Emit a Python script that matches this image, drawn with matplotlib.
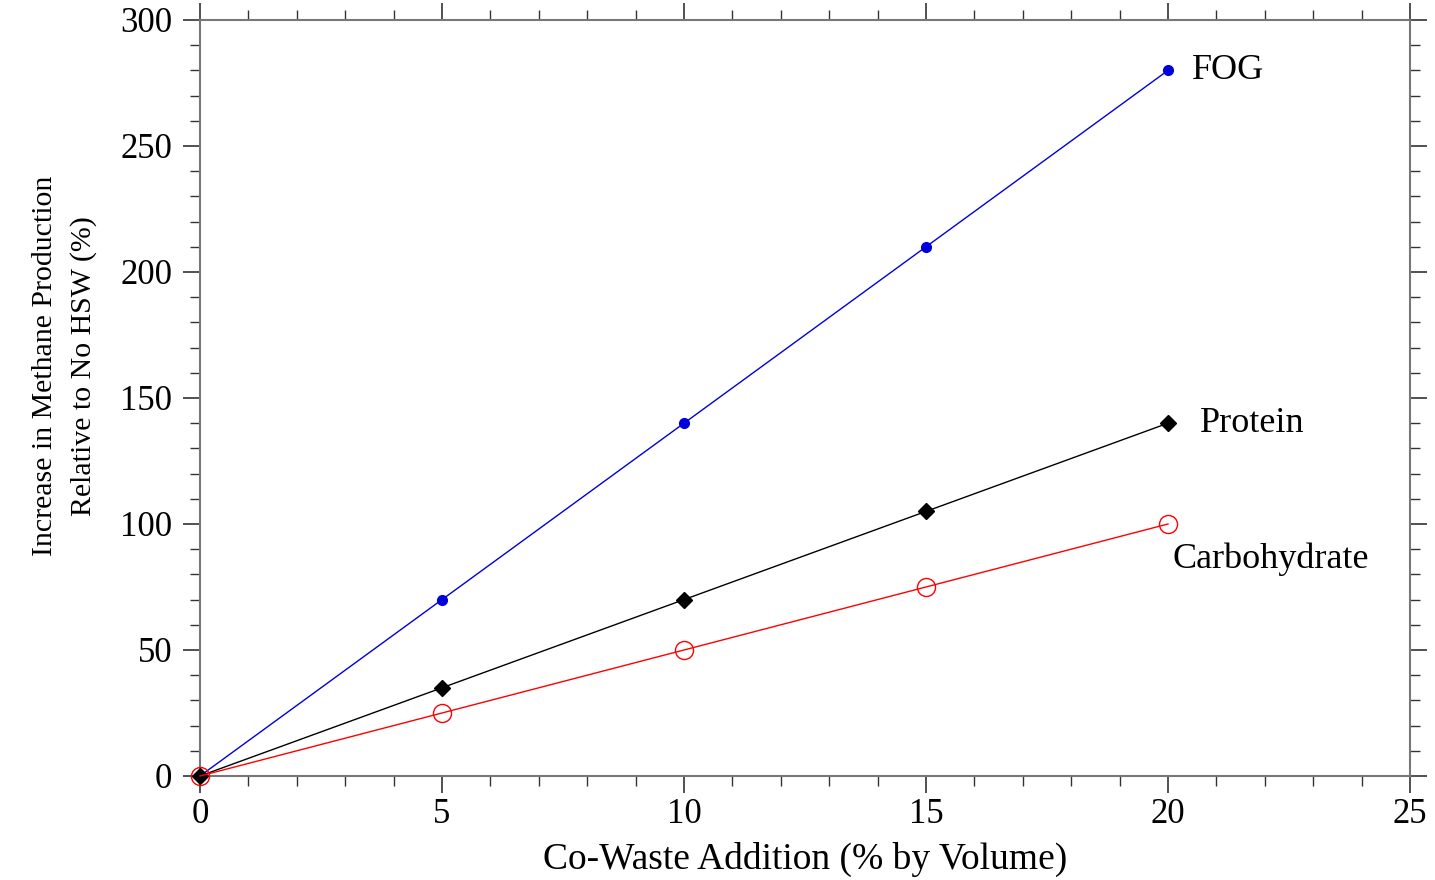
import matplotlib
matplotlib.use('Agg')
import matplotlib.pyplot as plt
from matplotlib.ticker import MultipleLocator

# 数据
co_waste = [0, 5, 10, 15, 20]
fog = [0, 70, 140, 210, 280]
protein = [0, 35, 70, 105, 140]
carbohydrate = [0, 25, 50, 75, 100]

plt.rcParams['font.family'] = ['Liberation Serif', 'DejaVu Serif']

fig = plt.figure(figsize=(14.35, 8.8), dpi=100)
ax = fig.add_axes([0.1394, 0.1182, 0.8432, 0.8591])

ax.plot(co_waste, fog, '-o', color='#0000dd', linewidth=1, markersize=7, zorder=3,
        clip_on=False)
ax.plot(co_waste, protein, '-D', color='black', linewidth=1, markersize=8, zorder=4,
        clip_on=False)
ax.plot(co_waste, carbohydrate, '-o', color='#ff0000', linewidth=1, markersize=13,
        markerfacecolor='none', markeredgewidth=1, zorder=5, clip_on=False)

# 曲线标注
ax.text(20.5, 280, 'FOG', fontsize=26, ha='left', va='center')
ax.text(20.65, 140, 'Protein', fontsize=26, ha='left', va='center')
ax.text(20.1, 86, 'Carbohydrate', fontsize=26, ha='left', va='center')

ax.set_xlim(0, 25)
ax.set_ylim(0, 300)
ax.xaxis.set_major_locator(MultipleLocator(5))
ax.xaxis.set_minor_locator(MultipleLocator(1))
ax.yaxis.set_major_locator(MultipleLocator(50))
ax.yaxis.set_minor_locator(MultipleLocator(10))

ax.tick_params(which='both', direction='out', top=True, right=True, color='#333333')
ax.tick_params(which='major', length=12, width=1.2, labelsize=25)
ax.tick_params(axis='x', which='major', pad=4)
ax.tick_params(axis='y', which='major', pad=8)
ax.tick_params(which='minor', length=7, width=1)
for s in ax.spines.values():
    s.set_color('#777777')
    s.set_linewidth(1.5)

ax.set_xlabel('Co-Waste Addition (% by Volume)', fontsize=27, labelpad=8)
ax.set_ylabel('Increase in Methane Production\nRelative to No HSW (%)', fontsize=21.5,
              linespacing=1.6)
ax.yaxis.set_label_coords(-0.085, 0.542)

fig.savefig('out.png', dpi=100)
